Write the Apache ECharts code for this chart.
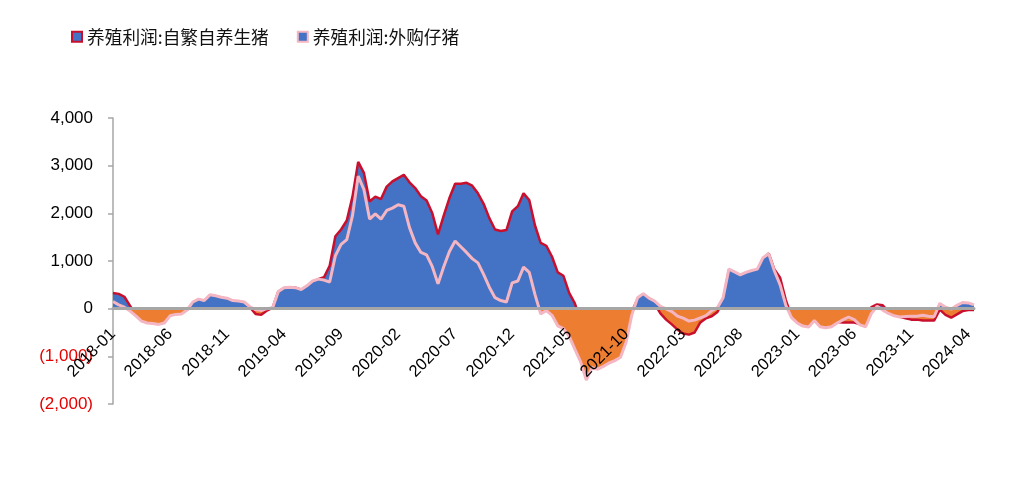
<!DOCTYPE html>
<html><head><meta charset="utf-8">
<script src="https://cdn.jsdelivr.net/npm/echarts/dist/echarts.min.js"></script>
<style>html,body{margin:0;padding:0;background:#fff}#c{width:1018px;height:481px}</style>
</head><body><div id="c"></div><script>
const categories = [
'2018-01-01','2018-01-16','2018-02-01','2018-02-16','2018-03-01','2018-03-16','2018-04-01','2018-04-16','2018-05-01','2018-05-16','2018-06-01','2018-06-16','2018-07-01','2018-07-16','2018-08-01','2018-08-16','2018-09-01','2018-09-16','2018-10-01','2018-10-16','2018-11-01','2018-11-16','2018-12-01','2018-12-16',
'2019-01-01','2019-01-16','2019-02-01','2019-02-16','2019-03-01','2019-03-16','2019-04-01','2019-04-16','2019-05-01','2019-05-16','2019-06-01','2019-06-16','2019-07-01','2019-07-16','2019-08-01','2019-08-16','2019-09-01','2019-09-16','2019-10-01','2019-10-16','2019-11-01','2019-11-16','2019-12-01','2019-12-16',
'2020-01-01','2020-01-16','2020-02-01','2020-02-16','2020-03-01','2020-03-16','2020-04-01','2020-04-16','2020-05-01','2020-05-16','2020-06-01','2020-06-16','2020-07-01','2020-07-16','2020-08-01','2020-08-16','2020-09-01','2020-09-16','2020-10-01','2020-10-16','2020-11-01','2020-11-16','2020-12-01','2020-12-16',
'2021-01-01','2021-01-16','2021-02-01','2021-02-16','2021-03-01','2021-03-16','2021-04-01','2021-04-16','2021-05-01','2021-05-16','2021-06-01','2021-06-16','2021-07-01','2021-07-16','2021-08-01','2021-08-16','2021-09-01','2021-09-16','2021-10-01','2021-10-16','2021-11-01','2021-11-16','2021-12-01','2021-12-16',
'2022-01-01','2022-01-16','2022-02-01','2022-02-16','2022-03-01','2022-03-16','2022-04-01','2022-04-16','2022-05-01','2022-05-16','2022-06-01','2022-06-16','2022-07-01','2022-07-16','2022-08-01','2022-08-16','2022-09-01','2022-09-16','2022-10-01','2022-10-16','2022-11-01','2022-11-16','2022-12-01','2022-12-16',
'2023-01-01','2023-01-16','2023-02-01','2023-02-16','2023-03-01','2023-03-16','2023-04-01','2023-04-16','2023-05-01','2023-05-16','2023-06-01','2023-06-16','2023-07-01','2023-07-16','2023-08-01','2023-08-16','2023-09-01','2023-09-16','2023-10-01','2023-10-16','2023-11-01','2023-11-16','2023-12-01','2023-12-16',
'2024-01-01','2024-01-16','2024-02-01','2024-02-16','2024-03-01','2024-03-16','2024-04-01','2024-04-16'
];
const seriesNames = ['养殖利润:自繁自养生猪', '养殖利润:外购仔猪'];
const selfBreeding = [
330,310,250,60,-130,-230,-290,-300,-310,-290,
-140,-110,-100,-20,120,180,160,280,260,230,
210,160,150,130,30,-110,-130,-40,20,360,
430,450,440,400,470,560,620,660,900,1520,
1660,1850,2350,3080,2850,2250,2350,2300,2560,2670,
2740,2810,2650,2530,2360,2270,2000,1560,1950,2320,
2620,2620,2640,2580,2420,2200,1900,1660,1630,1650,
2040,2150,2420,2280,1750,1380,1320,1090,760,690,
330,110,-250,-450,-500,-650,-850,-950,-1000,-900,
-500,-60,200,280,180,100,-100,-230,-330,-440,
-520,-545,-500,-290,-200,-160,-70,150,800,740,
690,740,780,810,1050,1160,820,650,180,-160,
-270,-330,-350,-220,-350,-370,-350,-280,-290,-290,
-290,-320,-350,30,90,70,-60,-120,-170,-200,
-230,-230,-250,-250,-250,-20,-130,-190,-120,-50,
-30,-30
];
const boughtPiglet = [
150,80,30,-50,-150,-260,-300,-310,-330,-300,
-150,-120,-110,-30,140,200,170,290,270,240,
220,170,160,140,40,-20,-40,0,20,360,
440,450,440,400,480,580,620,600,560,1110,
1350,1450,1950,2780,2500,1880,1990,1880,2060,2110,
2180,2150,1700,1380,1180,1130,880,520,880,1200,
1420,1300,1180,1050,960,720,450,230,170,140,
540,580,870,760,300,-110,-40,-140,-360,-420,
-580,-850,-1110,-1500,-1240,-1270,-1210,-1140,-1090,-1020,
-700,-125,230,315,220,160,50,-5,-60,-155,
-200,-260,-240,-195,-145,-40,20,230,830,770,
710,760,800,830,1070,1150,790,500,70,-190,
-300,-365,-385,-250,-380,-400,-380,-300,-235,-175,
-230,-340,-380,-100,50,-30,-100,-150,-175,-165,
-160,-160,-140,-160,-170,110,30,-10,70,130,
120,80
];
const yMin = -2000, yMax = 4000, yStep = 1000;

const BLUE = '#4472C4', ORANGE = '#ED7D31', RED = '#C8102E', PINK = '#F4B6C2';
const fmt = v => Math.abs(v).toLocaleString('en-US');

const chart = echarts.init(document.getElementById('c'), null, {renderer: 'canvas'});

function areaFill(zeroY, topY, botY) {
  const off = (zeroY - topY) / (botY - topY);
  return new echarts.graphic.LinearGradient(0, topY, 0, botY, [
    {offset: 0, color: BLUE}, {offset: off, color: BLUE},
    {offset: off, color: ORANGE}, {offset: 1, color: ORANGE}
  ], true);
}

const option = {
  animation: false,
  backgroundColor: '#fff',
  grid: {left: 113, right: 44, top: 118, bottom: 77, containLabel: false},
  legend: {
    left: 66, top: 23, icon: 'rect', itemWidth: 10, itemHeight: 10, itemGap: 28, itemTextGap: 4,
    textStyle: {fontSize: 17.7, color: '#111', fontFamily: '"Noto Sans CJK SC", sans-serif'},
    data: [
      {name: seriesNames[0], itemStyle: {color: BLUE, borderColor: RED, borderWidth: 2}},
      {name: seriesNames[1], itemStyle: {color: BLUE, borderColor: PINK, borderWidth: 2}}
    ]
  },
  xAxis: {
    type: 'category', data: categories, boundaryGap: false, z: 10,
    axisLine: {onZero: true, lineStyle: {color: '#A6A6A6', width: 3}},
    axisTick: {show: false},
    axisLabel: {
      interval: 9, rotate: 45, margin: 10, fontSize: 16.5, color: '#000',
      fontFamily: '"Liberation Sans", Arial, sans-serif',
      formatter: v => v.slice(0, 7)
    }
  },
  yAxis: {
    type: 'value', min: yMin, max: yMax, interval: yStep,
    axisLine: {show: true, lineStyle: {color: '#A6A6A6', width: 1.5}},
    axisTick: {show: true, length: 5, lineStyle: {color: '#A6A6A6', width: 1.5}},
    splitLine: {show: false},
    axisLabel: {
      margin: 20, fontSize: 17, fontFamily: '"Liberation Sans", Arial, sans-serif',
      formatter: v => v < 0 ? '(' + fmt(v) + ')' : fmt(v),
      color: v => Number(v) < 0 ? '#E60000' : '#000'
    }
  },
  series: [
    {name: 'area1', type: 'line', data: selfBreeding, symbol: 'none', lineStyle: {width: 0}, areaStyle: {opacity: 1, color: BLUE}, z: 2, silent: true},
    {name: seriesNames[0], type: 'line', data: selfBreeding, symbol: 'none', lineStyle: {color: RED, width: 2.5}, itemStyle: {color: RED}, z: 3},
    {name: 'area2', type: 'line', data: boughtPiglet, symbol: 'none', lineStyle: {width: 0}, areaStyle: {opacity: 1, color: BLUE}, z: 4, silent: true},
    {name: seriesNames[1], type: 'line', data: boughtPiglet, symbol: 'none', lineStyle: {color: PINK, width: 3}, itemStyle: {color: PINK}, z: 5}
  ]
};
chart.setOption(option);
const zeroY = chart.convertToPixel({yAxisIndex: 0}, 0);
const topY = chart.convertToPixel({yAxisIndex: 0}, yMax);
const botY = chart.convertToPixel({yAxisIndex: 0}, yMin);
chart.setOption({
  xAxis: {axisLabel: {margin: 23 - (botY - zeroY)}},
  series: [
    {areaStyle: {opacity: 1, color: areaFill(zeroY, topY, botY)}},
    {},
    {areaStyle: {opacity: 1, color: areaFill(zeroY, topY, botY)}},
    {}
  ]
});
</script></body></html>
